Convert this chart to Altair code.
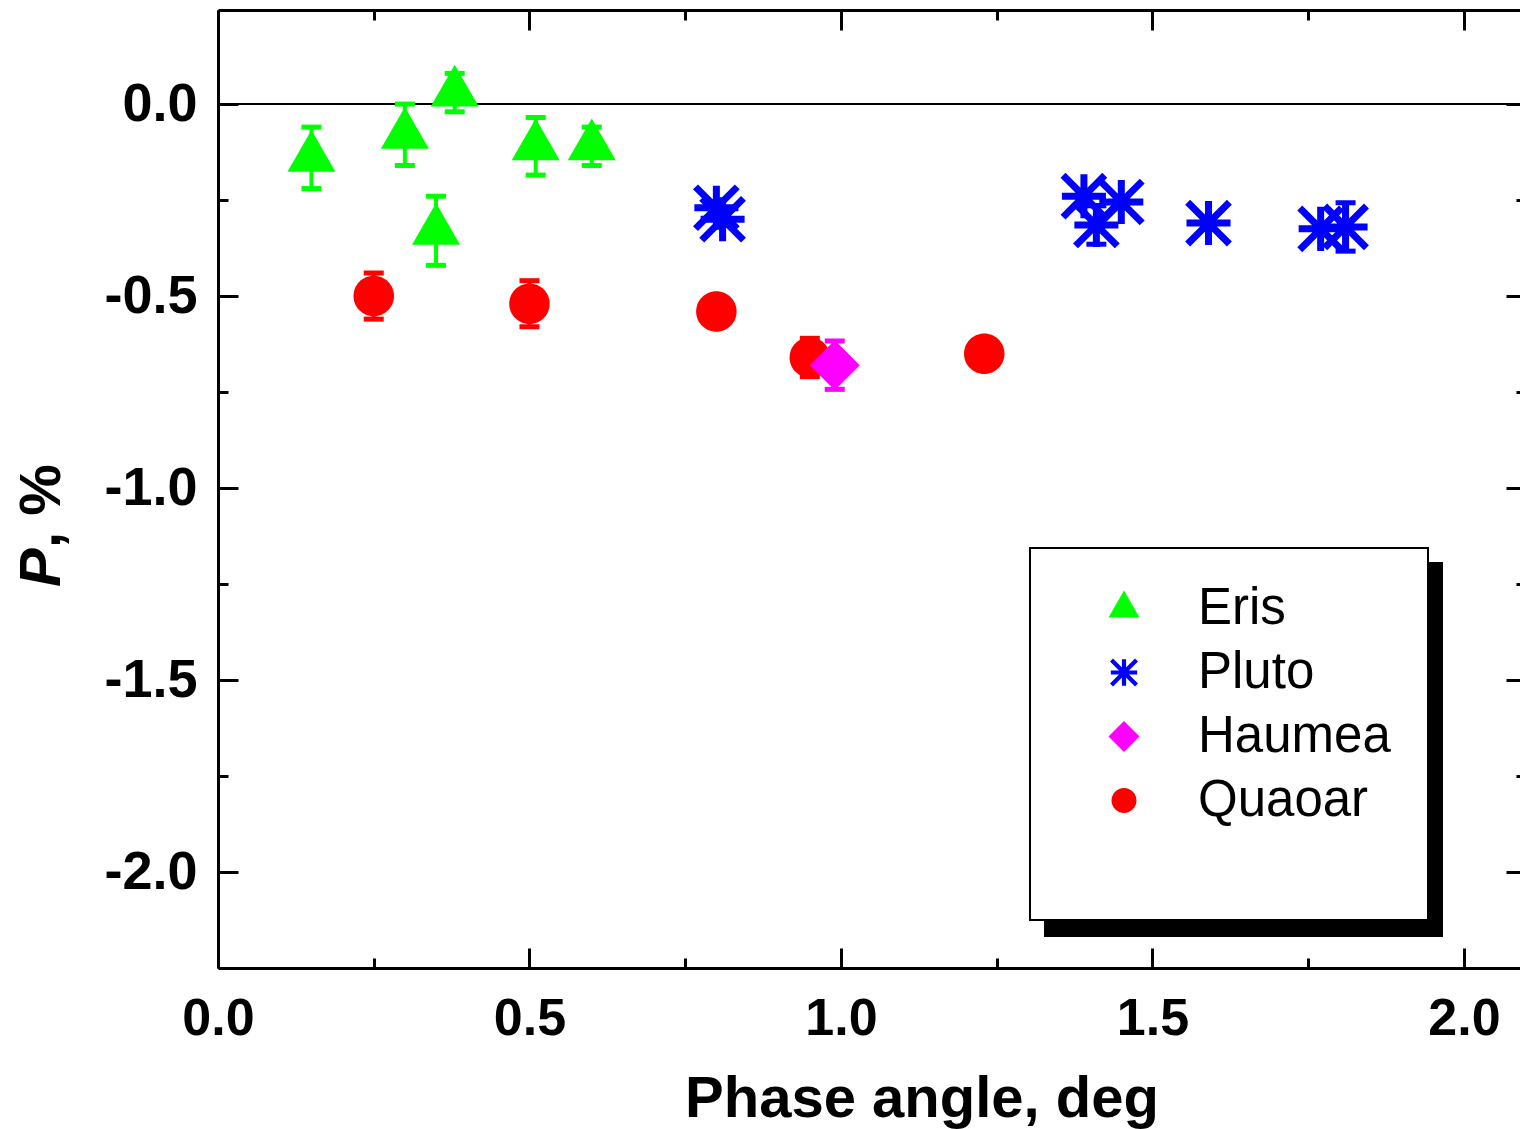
import math

import altair as alt
import pandas as pd

# Linear polarization of bright trans-Neptunian objects vs phase angle
# phase angle (deg), P (%), 1-sigma error of P (%)
eris_alpha = [0.15, 0.30, 0.38, 0.35, 0.51, 0.60]
eris_p = [-0.14, -0.08, 0.03, -0.33, -0.11, -0.11]
eris_err = [0.08, 0.08, 0.05, 0.09, 0.075, 0.05]

pluto_alpha = [0.80, 0.81, 1.39, 1.41, 1.45, 1.59, 1.77, 1.81]
pluto_p = [-0.27, -0.30, -0.24, -0.315, -0.255, -0.31, -0.325, -0.32]
pluto_err = [0.0, 0.0, 0.0, 0.05, 0.0, 0.0, 0.0, 0.063]

haumea_alpha = [0.99]
haumea_p = [-0.68]
haumea_err = [0.063]

quaoar_alpha = [0.25, 0.50, 0.80, 0.95, 1.23]
quaoar_p = [-0.50, -0.52, -0.54, -0.66, -0.65]
quaoar_err = [0.06, 0.06, 0.0, 0.05, 0.0]

objects = ["Eris", "Pluto", "Haumea", "Quaoar"]
colors = ["#00ff00", "#0000ff", "#ff00ff", "#ff0000"]

x_major = [0.0, 0.5, 1.0, 1.5, 2.0]
x_minor = [0.25, 0.75, 1.25, 1.75]
y_major = [0.0, -0.5, -1.0, -1.5, -2.0]
y_minor = [-0.25, -0.75, -1.25, -1.75]

FONT = "Liberation Sans"
W, H = 1302, 958
X_MAX = 2.09
Y_MIN, Y_MAX = -2.25, 0.245


# ---- marker outlines in the unit square (scaled by sqrt(size)/2) ----
def fmt(v):
    return f"{v:.4f}"


def circle_path(r):
    k = 0.5523 * r
    return (f"M{fmt(r)},0C{fmt(r)},{fmt(k)} {fmt(k)},{fmt(r)} 0,{fmt(r)}"
            f"C{fmt(-k)},{fmt(r)} {fmt(-r)},{fmt(k)} {fmt(-r)},0"
            f"C{fmt(-r)},{fmt(-k)} {fmt(-k)},{fmt(-r)} 0,{fmt(-r)}"
            f"C{fmt(k)},{fmt(-r)} {fmt(r)},{fmt(-k)} {fmt(r)},0Z")


def asterisk_path(a, d, w):
    parts = []
    for ang, length in [(0, a), (90, a), (45, d), (135, d)]:
        t = math.radians(ang)
        ux, uy = math.cos(t), math.sin(t)
        vx, vy = -uy, ux
        pts = [(length * ux + w * vx, length * uy + w * vy),
               (-length * ux + w * vx, -length * uy + w * vy),
               (-length * ux - w * vx, -length * uy - w * vy),
               (length * ux - w * vx, length * uy - w * vy)]
        parts.append("M" + "L".join(f"{fmt(x)},{fmt(y)}" for x, y in pts) + "Z")
    return "".join(parts)


triangle = "M0,-1.1547L1,0.5774L-1,0.5774Z"   # centroid at the data point
diamond = "M0,-1L1,0L0,1L-1,0Z"
shapes = [triangle, asterisk_path(0.85, 1.14, 0.135), diamond, circle_path(0.806)]

xs = alt.Scale(domain=[0, X_MAX], nice=False, zero=False)
ys = alt.Scale(domain=[Y_MIN, Y_MAX], nice=False, zero=False)
shape_scale = alt.Scale(domain=objects, range=shapes)
color_scale = alt.Scale(domain=objects, range=colors)

legend_spec = alt.Legend(
    title=None, orient="none", direction="vertical", legendX=880.5, legendY=573,
    padding=0, symbolSize=961, symbolStrokeWidth=0, symbolOpacity=1,
    labelFont=FONT, labelFontSize=51, labelColor="black", labelLimit=400,
    labelOffset=48.5, rowPadding=12,
)


def frame(alpha, p, err, name):
    return pd.DataFrame({"alpha": alpha, "p": p, "err": err, "object": name})


def series(df, color, size):
    d = df[df["err"] > 0]
    lo = d["p"] - d["err"]
    hi = d["p"] + d["err"]
    stems = pd.DataFrame({"alpha": d["alpha"], "lo": lo, "hi": hi})
    caps = pd.DataFrame({"alpha": list(d["alpha"]) * 2, "v": list(lo) + list(hi)})
    layers = []
    if len(d):
        layers.append(
            alt.Chart(stems).mark_rule(color=color, strokeWidth=4, opacity=1).encode(
                x=alt.X("alpha:Q", scale=xs, axis=None),
                y=alt.Y("lo:Q", scale=ys, axis=None),
                y2="hi:Q",
            )
        )
        layers.append(
            alt.Chart(caps).mark_tick(orient="horizontal", size=20, thickness=5,
                                      color=color, opacity=1).encode(
                x=alt.X("alpha:Q", scale=xs, axis=None),
                y=alt.Y("v:Q", scale=ys, axis=None),
            )
        )
    layers.append(
        alt.Chart(df).mark_point(filled=True, opacity=1, strokeWidth=0).encode(
            x=alt.X("alpha:Q", scale=xs, axis=None),
            y=alt.Y("p:Q", scale=ys, axis=None),
            shape=alt.Shape("object:N", scale=shape_scale, legend=legend_spec),
            color=alt.Color("object:N", scale=color_scale, legend=legend_spec),
            size=alt.value(size),
        )
    )
    return layers


anchor = pd.DataFrame({"alpha": [0.0], "p": [0.0]})


def tick_axis(orient, offset, values, size, domain=False):
    return alt.Axis(orient=orient, offset=offset, values=values, tickSize=size,
                    tickWidth=3, tickColor="black", ticks=True, labels=False,
                    domain=domain, domainWidth=3, domainColor="black",
                    grid=False, title=None)


def axis_layer(xaxis, yaxis):
    return alt.Chart(anchor).mark_point(opacity=0, size=0).encode(
        x=alt.X("alpha:Q", scale=xs, axis=xaxis),
        y=alt.Y("p:Q", scale=ys, axis=yaxis),
    )


x_main = alt.Axis(
    orient="bottom", values=x_major, format=".1f", grid=False,
    ticks=False, tickSize=0, domain=True, domainColor="black", domainWidth=3,
    labelFont=FONT, labelFontSize=52, labelFontWeight="bold", labelColor="black",
    labelPadding=25, labelFlush=False, labelOverlap=False,
    title="Phase angle, deg", titleFont=FONT, titleFontSize=58,
    titleFontWeight="bold", titleColor="black", titlePadding=26,
    titleX=703.5, titleAlign="center",
)
y_main = alt.Axis(
    orient="left", values=y_major, grid=False,
    labelExpr="datum.value < 0 ? '-' + format(-datum.value, '.1f') : format(datum.value, '.1f')",
    ticks=False, tickSize=0, domain=True, domainColor="black", domainWidth=3,
    labelFont=FONT, labelFontSize=54, labelFontWeight="bold", labelColor="black",
    labelPadding=21, labelFlush=False, labelOverlap=False, title=None,
)

axes = [
    axis_layer(x_main, y_main),
    axis_layer(tick_axis("top", -H, x_major, 20), tick_axis("right", -W, y_major, 20)),
    axis_layer(tick_axis("top", -H, x_minor, 10), tick_axis("right", -W, y_minor, 10)),
    axis_layer(tick_axis("bottom", -H, x_major, 20, domain=True),
               tick_axis("left", -(W + 6), y_major, 20)),
    axis_layer(tick_axis("bottom", -H, x_minor, 10),
               tick_axis("left", -(W + 6), y_minor, 10)),
]

zero_line = alt.Chart(anchor).mark_rule(color="black", strokeWidth=2).encode(
    y=alt.Y("p:Q", scale=ys, axis=None)
)

# legend frame with a drop shadow
legend_shadow = alt.Chart(anchor).mark_rect(color="black", opacity=1).encode(
    x=alt.value(826), x2=alt.value(1225), y=alt.value(552), y2=alt.value(927)
)
legend_box = alt.Chart(anchor).mark_rect(fill="white", stroke="black", strokeWidth=2,
                                         opacity=1).encode(
    x=alt.value(812), x2=alt.value(1210), y=alt.value(538), y2=alt.value(910)
)

# y-axis title: italic "P" followed by upright ", %"
y_title_p = alt.Chart(anchor).mark_text(
    text="P", angle=270, align="left", baseline="alphabetic", font=FONT,
    fontSize=58, fontWeight="bold", fontStyle="italic", color="black",
).encode(x=alt.value(-158), y=alt.value(577))
y_title_rest = alt.Chart(anchor).mark_text(
    text=", %", angle=270, align="left", baseline="alphabetic", font=FONT,
    fontSize=58, fontWeight="bold", color="black",
).encode(x=alt.value(-158), y=alt.value(538))

eris = series(frame(eris_alpha, eris_p, eris_err, "Eris"), colors[0], 2304)
pluto = series(frame(pluto_alpha, pluto_p, pluto_err, "Pluto"), colors[1], 2683)
quaoar = series(frame(quaoar_alpha, quaoar_p, quaoar_err, "Quaoar"), colors[3], 2524)
haumea = series(frame(haumea_alpha, haumea_p, haumea_err, "Haumea"), colors[2], 2500)

chart = (
    alt.layer(*axes, zero_line, legend_shadow, legend_box,
              *eris, *pluto, *quaoar, *haumea, y_title_p, y_title_rest)
    .resolve_axis(x="independent", y="independent")
    .properties(
        width=W, height=H,
        autosize=alt.AutoSizeParams(type="none"),
        padding={"left": 218, "top": 10, "right": 0, "bottom": 161},
        background="white",
    )
    .configure_view(stroke=None)
)

chart.save("out.html", embed_options={"renderer": "svg", "actions": False})
